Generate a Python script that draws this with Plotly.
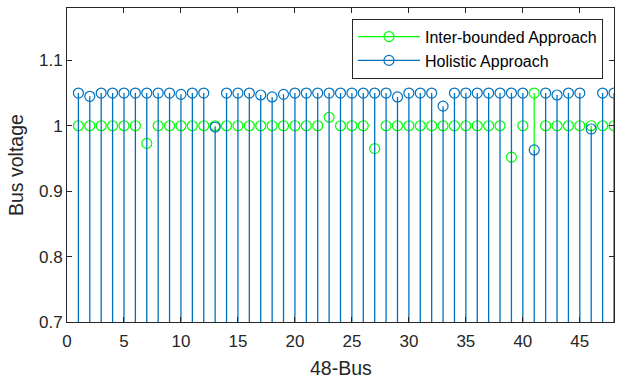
import plotly.graph_objects as go

bus = list(range(1, 49))
inter_bounded = [1.0, 1.0, 1.0, 1.0, 1.0, 1.0, 0.973, 1.0, 1.0, 1.0, 1.0, 1.0,
                 1.0, 1.0, 1.0, 1.0, 1.0, 1.0, 1.0, 1.0, 1.0, 1.0, 1.013, 1.0,
                 1.0, 1.0, 0.965, 1.0, 1.0, 1.0, 1.0, 1.0, 1.0, 1.0, 1.0, 1.0,
                 1.0, 1.0, 0.952, 1.0, 1.05, 1.0, 1.0, 1.0, 1.0, 1.0, 1.0, 1.0]
holistic = [1.05, 1.045, 1.05, 1.05, 1.05, 1.05, 1.05, 1.05, 1.05, 1.048, 1.05, 1.05,
            0.998, 1.05, 1.05, 1.05, 1.047, 1.044, 1.048, 1.05, 1.05, 1.05, 1.05, 1.05,
            1.05, 1.05, 1.05, 1.05, 1.044, 1.05, 1.05, 1.05, 1.03, 1.05, 1.05, 1.05,
            1.05, 1.05, 1.05, 1.05, 0.963, 1.05, 1.047, 1.05, 1.05, 0.995, 1.05, 1.05]
x_ticks = [0, 5, 10, 15, 20, 25, 30, 35, 40, 45]
y_ticks = [0.7, 0.8, 0.9, 1.0, 1.1]
y_ticklabels = ["0.7", "0.8", "0.9", "1", "1.1"]

GREEN = "#00FF00"
BLUE = "#0072BD"
FONT = "Liberation Sans, Arial"

fig = go.Figure()

# green stems: only the part not hidden beneath the holistic stems
gx, gy = [], []
for b, g, h in zip(bus, inter_bounded, holistic):
    if g > h:
        gx += [b, b, None]
        gy += [h, g, None]
fig.add_trace(go.Scatter(x=gx, y=gy, mode="lines", line=dict(color=GREEN, width=1.2),
                         showlegend=False, hoverinfo="skip"))
fig.add_trace(go.Scatter(x=bus, y=inter_bounded, mode="markers", showlegend=False,
                         marker=dict(symbol="circle-open", size=10, color=GREEN,
                                     line=dict(width=1.2, color=GREEN))))

bx, by = [], []
for b, h in zip(bus, holistic):
    bx += [b, b, None]
    by += [0, h, None]
fig.add_trace(go.Scatter(x=bx, y=by, mode="lines", line=dict(color=BLUE, width=1.3),
                         showlegend=False, hoverinfo="skip"))
fig.add_trace(go.Scatter(x=bus, y=holistic, mode="markers", showlegend=False,
                         marker=dict(symbol="circle-open", size=10, color=BLUE,
                                     line=dict(width=1.2, color=BLUE))))

for name, col in [("Inter-bounded Approach", GREEN), ("Holistic Approach", BLUE)]:
    fig.add_trace(go.Scatter(x=[None], y=[None], mode="lines+markers", name=name,
                             line=dict(color=col, width=1.2),
                             marker=dict(symbol="circle-open", size=10, color=col,
                                         line=dict(width=1.2, color=col))))

axis_common = dict(showgrid=False, zeroline=False, showline=True, mirror="ticks",
                   ticks="inside", ticklen=5, tickwidth=1, tickcolor="#262626",
                   linecolor="#262626", linewidth=1, automargin=False,
                   tickfont=dict(family=FONT, size=17, color="#262626"))

fig.update_layout(
    width=620, height=382,
    margin=dict(l=67, r=6, t=8, b=60),
    paper_bgcolor="white", plot_bgcolor="white",
    font=dict(family=FONT, color="#262626"),
    xaxis=dict(range=[0, 48], tickvals=x_ticks, ticklabelstandoff=4, **axis_common),
    yaxis=dict(range=[0.7, 1.18], tickvals=y_ticks, ticktext=y_ticklabels, **axis_common),
    legend=dict(x=0.521, y=0.966, xanchor="left", yanchor="top",
                bgcolor="white", bordercolor="#262626", borderwidth=1, itemwidth=62,
                font=dict(family=FONT, size=16, color="#000000"), tracegroupgap=0),
    showlegend=True,
    annotations=[
        dict(text="48-Bus", xref="paper", yref="paper", x=0.5, y=0, xanchor="center",
             yanchor="middle", yshift=-46, showarrow=False,
             font=dict(family=FONT, size=19.5, color="#262626")),
        dict(text="Bus voltage", xref="paper", yref="paper", x=0, y=0.5, xanchor="center",
             yanchor="middle", xshift=-51, textangle=-90, showarrow=False,
             font=dict(family=FONT, size=19.5, color="#262626")),
    ],
)

fig.write_html("out.html", config={"displayModeBar": False},
               post_script="document.body.style.margin='0';")
